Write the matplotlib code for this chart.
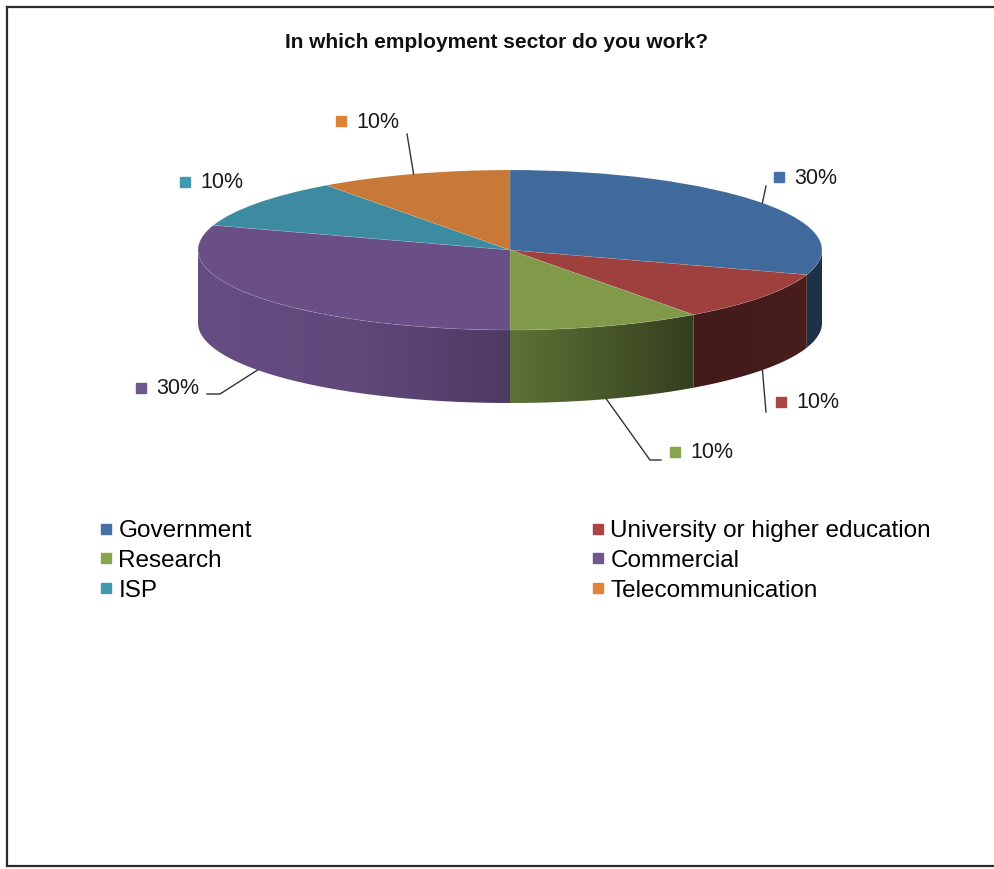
import numpy as np
import matplotlib
matplotlib.use("Agg")
import matplotlib.pyplot as plt
from matplotlib.lines import Line2D
from matplotlib.patches import Polygon

plt.rcParams['font.family'] = ['Liberation Sans', 'DejaVu Sans']

# ---- data ----
categories = ["Government", "University or higher education", "Research",
              "Commercial", "ISP", "Telecommunication"]
values = [30, 10, 10, 30, 10, 10]
pct_labels = ["30%", "10%", "10%", "30%", "10%", "10%"]
title = "In which employment sector do you work?"

# ---- styles ----
top_colors = ["#406A9B", "#9D403E", "#809A4A", "#694F86", "#3C8BA0", "#C87937"]
legend_colors = ["#4571A8", "#A94542", "#88A44D", "#70578F", "#3F99B0", "#DF833A"]

W, H = 995, 869
fig = plt.figure(figsize=(W / 100, H / 100), dpi=100)

# pie geometry in pixels
cx, cy, rx, ry, depth = 510, 250, 312, 80, 73
d = depth / ry
xl, yl_lo, yl_hi = 1.2, -2.2, 1.2
axw = 2 * xl * rx
axh = (yl_hi - yl_lo) * ry
left = cx - xl * rx
top = cy - yl_hi * ry
ax = fig.add_axes([left / W, (H - top - axh) / H, axw / W, axh / H])

wedges, _ = ax.pie(values, colors=top_colors, startangle=90, counterclock=False,
                   radius=1,
                   wedgeprops=dict(edgecolor=(1, 1, 1, 0.12), linewidth=0.6, zorder=3))
ax.set_aspect('auto')

# side walls (front half only) with horizontal shading
total = float(sum(values))
cum = np.concatenate([[0], np.cumsum(values)]) / total
shade_x = [-1.0, -0.5, 0.0, 0.58, 1.0]
shade_f = [0.97, 0.92, 0.74, 0.41, 0.47]
N = 600
xs = np.linspace(-1, 1, N)
fac = np.interp(xs, shade_x, shade_f)
for i, v in enumerate(values):
    t1 = 90 - 360 * cum[i + 1]
    t2 = 90 - 360 * cum[i]
    segs = []
    for off in (0, -360, 360):
        a, b = max(t1 + off, -180), min(t2 + off, 0)
        if b > a:
            segs.append((a, b))
    for a, b in segs:
        th = np.radians(np.linspace(a, b, 100))
        topx, topy = np.cos(th), np.sin(th)
        pts = np.vstack([np.column_stack([topx, topy]),
                         np.column_stack([topx[::-1], topy[::-1] - d])])
        poly = Polygon(pts, closed=True, facecolor='none', edgecolor='none')
        ax.add_patch(poly)
        base = np.array(matplotlib.colors.to_rgb(top_colors[i]))
        img = np.clip(base[None, None, :] * fac[None, :, None], 0, 1)
        im = ax.imshow(img, extent=(-1, 1, -1 - d, 0.05), origin='lower',
                       aspect='auto', zorder=1, interpolation='bilinear')
        im.set_clip_path(poly)

ax.set_xlim(-xl, xl)
ax.set_ylim(yl_lo, yl_hi)
ax.axis('off')

# overlay axes in pixel coordinates for labels
ov = fig.add_axes([0, 0, 1, 1])
ov.set_xlim(0, W)
ov.set_ylim(H, 0)
ov.axis('off')
ov.patch.set_alpha(0)

def to_px(x, y):
    disp = ax.transData.transform((x, y))
    return ov.transData.inverted().transform(disp)

# label marker positions (pixels) and leader bends
label_pos = [(779, 177), (781, 402), (675, 452), (141, 388), (185, 182), (341, 121)]
leader_ends = [[(766, 186)], [(766, 412)], [(650, 460), (661, 460)],
               [(220, 394), (207, 394)], [], [(407, 134)]]
for i, v in enumerate(values):
    mid = np.radians(90 - 360 * (cum[i] + cum[i + 1]) / 2)
    mx, my = np.cos(mid), np.sin(mid)
    if my < 0:
        my -= d
    if leader_ends[i]:
        ax_pt = to_px(mx, my)
        xs_l = [ax_pt[0]] + [p[0] for p in leader_ends[i]]
        ys_l = [ax_pt[1]] + [p[1] for p in leader_ends[i]]
        ov.plot(xs_l, ys_l, color='#333333', lw=1.0, zorder=5)
    px, py = label_pos[i]
    ov.plot([px], [py], marker='s', ms=6.5, color=legend_colors[i], ls='none', zorder=6)
    ov.text(px + 15, py + 1, pct_labels[i], fontsize=15.5, color='#1a1a1a',
            ha='left', va='center', zorder=6)

# title
ov.text(497, 42, title, fontsize=15, fontweight='bold', ha='center', va='center',
        color='#111111')

# legend (two columns)
handles = [Line2D([0], [0], marker='s', ls='none', color=c, markersize=6.5)
           for c in legend_colors]
col1 = [0, 2, 4]
col2 = [1, 3, 5]
common = dict(frameon=False, borderpad=0, borderaxespad=0, handlelength=0.6,
              handletextpad=0.2, labelspacing=0.32, fontsize=17.5, loc='upper left')
for idxs, xpx in ((col1, 99), (col2, 591)):
    lg = fig.legend([handles[j] for j in idxs], [categories[j] for j in idxs],
                    bbox_to_anchor=(xpx / W, 1 - 520 / H), **common)

# border
border_kw = dict(color='#2a2a2a', lw=1.6)
ov.plot([7, W], [7, 7], **border_kw)
ov.plot([7, 7], [7, 866], **border_kw)
ov.plot([7, W], [866, 866], **border_kw)

fig.savefig("out.png", dpi=100)
